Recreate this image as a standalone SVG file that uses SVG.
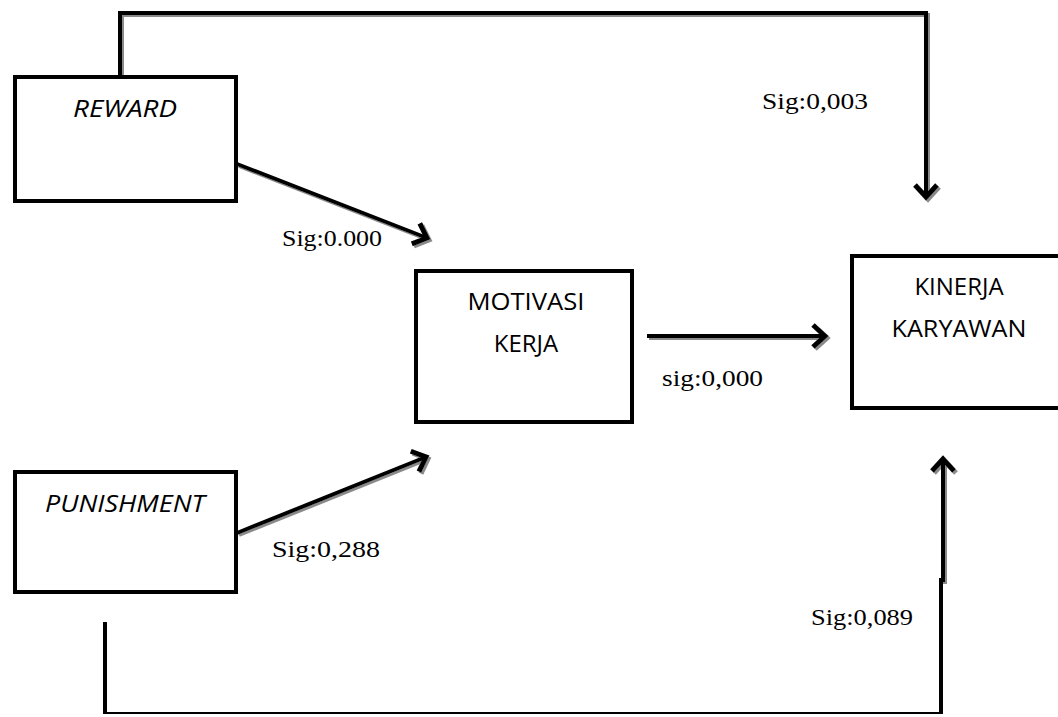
<svg xmlns="http://www.w3.org/2000/svg" width="1058" height="717" viewBox="0 0 1058 717">
  <defs>
    <style>
      .box { fill: #ffffff; stroke: #000000; stroke-width: 4; }
      .lbl { font-family: "Open Sans", "Liberation Sans", sans-serif; font-size: 24px; fill: #000; text-anchor: middle; }
      .it { font-style: italic; }
      .sig { font-family: "Liberation Serif", "Times New Roman", serif; font-size: 23px; fill: #000; }
      .ln { fill: none; stroke: #000; stroke-width: 4; stroke-linejoin: miter; stroke-linecap: butt; }
      .thin { fill: none; stroke: #000; stroke-width: 2; }
    </style>
    <marker id="chev" viewBox="-16 -14 20 28" refX="0" refY="0" markerWidth="20" markerHeight="28" markerUnits="userSpaceOnUse" orient="auto" overflow="visible">
      <path d="M-12,-11 L0,0 L-12,11" fill="none" stroke="#000" stroke-width="5" stroke-linejoin="miter" stroke-miterlimit="4"/>
    </marker>
    <filter id="shadow" x="-10%" y="-10%" width="120%" height="120%">
      <feDropShadow dx="2" dy="2" stdDeviation="0.6" flood-color="#8a8a8a" flood-opacity="1"/>
    </filter>
  </defs>
  <rect width="1058" height="717" fill="#ffffff"/>

  <g id="connectors">
    <g filter="url(#shadow)">
      <polyline class="ln" points="120,77 120,13 926,13 926,197" marker-end="url(#chev)"/>
      <line class="ln" x1="237" y1="164" x2="427" y2="238" marker-end="url(#chev)"/>
      <line class="ln" x1="237" y1="533" x2="426" y2="457" marker-end="url(#chev)"/>
      <line class="ln" x1="647" y1="336" x2="825" y2="336" marker-end="url(#chev)"/>
      <line class="ln" x1="943" y1="582" x2="943" y2="459" marker-end="url(#chev)"/>
    </g>
    <line class="ln" x1="105" y1="622" x2="105" y2="714"/>
    <line class="thin" x1="105" y1="713" x2="941" y2="713"/>
    <line class="ln" x1="941" y1="714" x2="941" y2="578"/>
  </g>

  <g id="reward">
    <rect class="box" x="15" y="77" width="221" height="124"/>
    <text class="lbl it" x="125" y="117" textLength="104" lengthAdjust="spacingAndGlyphs">REWARD</text>
  </g>
  <g id="punishment">
    <rect class="box" x="15" y="472" width="221" height="120"/>
    <text class="lbl it" x="125" y="512" textLength="160" lengthAdjust="spacingAndGlyphs">PUNISHMENT</text>
  </g>
  <g id="motivasi">
    <rect class="box" x="416" y="271" width="216" height="151"/>
    <text class="lbl" x="526" y="310" textLength="117" lengthAdjust="spacingAndGlyphs">MOTIVASI</text>
    <text class="lbl" x="526" y="352">KERJA</text>
  </g>
  <g id="kinerja">
    <rect class="box" x="852" y="256" width="222" height="152"/>
    <text class="lbl" x="959" y="295">KINERJA</text>
    <text class="lbl" x="959" y="337" textLength="135" lengthAdjust="spacingAndGlyphs">KARYAWAN</text>
  </g>

  <g id="labels">
    <text class="sig" x="282" y="246" textLength="100" lengthAdjust="spacingAndGlyphs">Sig:0.000</text>
    <text class="sig" x="762" y="109" textLength="106" lengthAdjust="spacingAndGlyphs">Sig:0,003</text>
    <text class="sig" x="662" y="386" textLength="101" lengthAdjust="spacingAndGlyphs">sig:0,000</text>
    <text class="sig" x="272" y="557" textLength="108" lengthAdjust="spacingAndGlyphs">Sig:0,288</text>
    <text class="sig" x="811" y="625" textLength="102" lengthAdjust="spacingAndGlyphs">Sig:0,089</text>
  </g>
</svg>
